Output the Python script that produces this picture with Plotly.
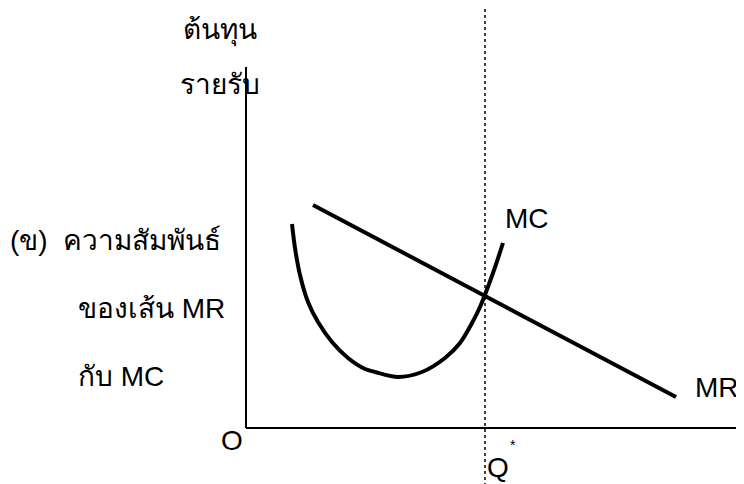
import plotly.graph_objects as go

# ---- data (diagram units: quantity on x, cost/revenue on y) ----
mc_q = [4.6, 4.9, 5.4, 6.2, 7.2, 8.6, 10.2, 11.9, 12.9, 15.2, 17.6, 19.9, 21.4, 22.6, 23.4, 24.7, 25.7]
mc_cost = [20.4, 18.0, 15.3, 12.6, 10.6, 8.6, 7.0, 5.9, 5.6, 5.1, 5.6, 7.0, 8.5, 10.5, 12.1, 15.5, 18.5]
mr_q = [6.7, 43.0]
mr_rev = [22.3, 3.1]
q_star = 23.9
x_axis_end = 49.4
y_axis_end = 36.1

FONT = "Liberation Sans, Arial, sans-serif"
BLACK = "#000000"

fig = go.Figure()
fig.add_trace(go.Scatter(x=mc_q, y=mc_cost, mode="lines",
                         line=dict(color=BLACK, width=4, shape="spline", smoothing=0.9),
                         hoverinfo="skip", showlegend=False))
fig.add_trace(go.Scatter(x=mr_q, y=mr_rev, mode="lines",
                         line=dict(color=BLACK, width=4),
                         hoverinfo="skip", showlegend=False))

shapes = [
    dict(type="line", x0=0, x1=0, y0=0, y1=y_axis_end, xref="x", yref="y",
         line=dict(color=BLACK, width=2)),
    dict(type="line", x0=0, x1=x_axis_end, y0=0, y1=0, xref="x", yref="y",
         line=dict(color=BLACK, width=2)),
    dict(type="line", x0=q_star, x1=q_star, y0=0, y1=1, xref="x", yref="paper",
         line=dict(color=BLACK, width=1.5, dash="dot")),
]

def ann(text, x, y, size=28, xanchor="center", yanchor="middle"):
    return dict(text=text, x=x, y=y, xref="x", yref="y", showarrow=False,
                xanchor=xanchor, yanchor=yanchor,
                font=dict(family=FONT, size=size, color=BLACK))

annotations = [
    ann("ต้นทุน", -2.6, 39.8),
    ann("รายรับ", -2.6, 34.4),
    ann("(ข)  ความสัมพันธ์", -23.8, 18.8, xanchor="left"),
    ann("ของเส้น MR", -17.0, 12.0, xanchor="left"),
    ann("กับ MC", -17.0, 5.2, xanchor="left"),
    ann("MC", 28.1, 21.0),
    ann("MR", 47.1, 4.1),
    ann("O", -1.4, -1.2),
    ann("Q", 25.2, -3.9),
    ann("*", 26.7, -1.7, size=14),
]

# the page body has an 8px margin, so the ranges are offset to place the diagram
fig.update_layout(
    width=744, height=484,
    margin=dict(l=0, r=0, t=0, b=0),
    paper_bgcolor="white", plot_bgcolor="white",
    xaxis=dict(range=[-23.8, 50.6], visible=False, fixedrange=True),
    yaxis=dict(range=[-6.4, 42.0], visible=False, fixedrange=True),
    shapes=shapes, annotations=annotations,
    font=dict(family=FONT),
)

fig.write_html("out.html")
